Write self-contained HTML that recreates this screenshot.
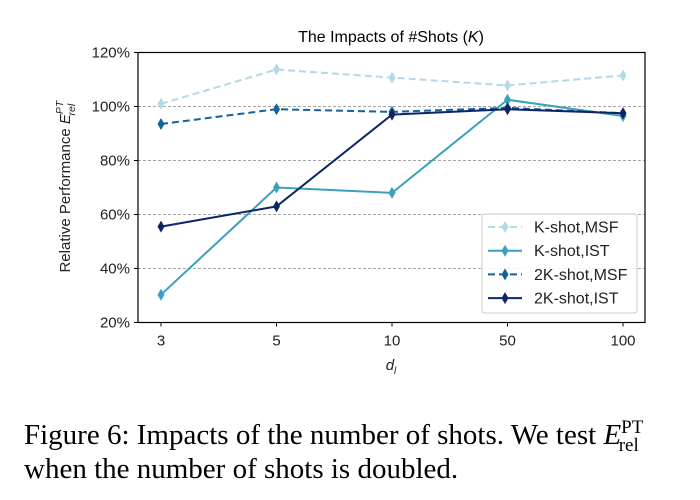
<!DOCTYPE html>
<html><head><meta charset="utf-8"><style>
body{margin:0;background:#fff;width:700px;height:500px;overflow:hidden}
svg{display:block}
</style></head><body>
<svg id="chart" width="700" height="500" xmlns="http://www.w3.org/2000/svg" font-family="Liberation Sans, sans-serif"></svg>
<script>
const categories=["3","5","10","50","100"];
const yTicks=[20,40,60,80,100,120];
const seriesNames=["K-shot,MSF","K-shot,IST","2K-shot,MSF","2K-shot,IST"];
const kMSF=[101,113.7,110.7,107.8,111.5];
const kIST=[30.3,70,68,102.5,96.5];
const k2MSF=[93.5,99,98,99.5,97.5];
const k2IST=[55.5,63,97,99,97.5];
const NS="http://www.w3.org/2000/svg";
const svg=document.getElementById('chart');
const L=138,R=645,T=52.5,B=322.5;
const xs=i=>161+i*(623-161)/(categories.length-1);
const ys=v=>B-(v-20)/100*(B-T);
function mk(tag,attrs,parent){const e=document.createElementNS(NS,tag);for(const k in attrs)e.setAttribute(k,attrs[k]);(parent||svg).appendChild(e);return e;}
let t=mk('text',{x:391,y:42,'text-anchor':'middle','font-size':16,fill:'#000'});

t.innerHTML='The Impacts of #Shots (<tspan font-style="italic">K</tspan>)';
yTicks.forEach(v=>{
  if(v>20&&v<120){const g=mk('line',{x1:L,x2:R,y1:ys(v),y2:ys(v),stroke:'#888','stroke-width':0.8,'stroke-dasharray':'3,2'});
  }
  mk('line',{x1:L-4,x2:L,y1:ys(v),y2:ys(v),stroke:'#000'});
  const tx=mk('text',{x:L-8,y:ys(v)+5,'text-anchor':'end','font-size':15,fill:'#222'});
  
  tx.textContent=v+'%';
});
categories.forEach((c,i)=>{
  mk('line',{x1:xs(i),x2:xs(i),y1:B,y2:B+4,stroke:'#000'});
  const tx=mk('text',{x:xs(i),y:B+23,'text-anchor':'middle','font-size':15,fill:'#222'});
  
  tx.textContent=c;
});
let xt=mk('text',{x:391,y:370,'text-anchor':'middle','font-size':15,'font-style':'italic',fill:'#222'});

xt.innerHTML='d<tspan font-size="10" dy="4">l</tspan>';
let yt=mk('text',{transform:'translate(70,187) rotate(-90)','text-anchor':'middle','font-size':15,fill:'#222'});

yt.innerHTML='Relative Performance <tspan font-style="italic">E</tspan><tspan font-style="italic" font-size="10.5" dy="-7">PT</tspan><tspan font-style="italic" font-size="10.5" dx="-14" dy="12">rel</tspan>';
const series=[[kMSF,'#b4d8e6','7,4'],[kIST,'#3c9fbf',''],[k2MSF,'#12649a','7,4'],[k2IST,'#0c2567','']];
const nameKeys=['series-k-shot-msf','series-k-shot-ist','series-2k-shot-msf','series-2k-shot-ist'];
function diamond(x,y,col,parent){return mk('path',{d:`M${x},${y-6}L${x+3.5},${y}L${x},${y+6}L${x-3.5},${y}Z`,fill:col},parent);}
series.forEach((s,si)=>{
  const g=mk('g',{});
  
  const pts=s[0].map((v,i)=>xs(i)+','+ys(v)).join(' ');
  mk('polyline',{points:pts,fill:'none',stroke:s[1],'stroke-width':2,'stroke-dasharray':s[2]},g);
  s[0].forEach((v,i)=>{const d=diamond(xs(i),ys(v),s[1],g);});
});
mk('rect',{x:L,y:T,width:R-L,height:B-T,fill:'none',stroke:'#000','stroke-width':1.2});
const lg=mk('g',{});

mk('rect',{x:482,y:214,width:155,height:99,rx:3,fill:'#fff','fill-opacity':0.85,stroke:'#ccc'},lg);
series.forEach((s,si)=>{
  const y=227+si*23.7;
  const e=mk('g',{},lg);
  
  mk('line',{x1:488,x2:522,y1:y,y2:y,stroke:s[1],'stroke-width':2,'stroke-dasharray':s[2]},e);
  diamond(505,y,s[1],e);
  const tx=mk('text',{x:534,y:y+5.5,'font-size':16,fill:'#222'},e);
  tx.textContent=seriesNames[si];
});
const cap=mk('text',{x:24,y:444,'font-size':29,'font-family':'Liberation Serif, serif',fill:'#000'});

cap.innerHTML='Figure 6: Impacts of the number of shots. We test <tspan font-style="italic">E</tspan><tspan font-size="19" dy="-11">PT</tspan><tspan font-size="19" dx="-24" dy="18">rel</tspan>';
const cap2=mk('text',{x:24,y:478,'font-size':29,'font-family':'Liberation Serif, serif',fill:'#000'});

cap2.textContent='when the number of shots is doubled.';
</script>
</body></html>
